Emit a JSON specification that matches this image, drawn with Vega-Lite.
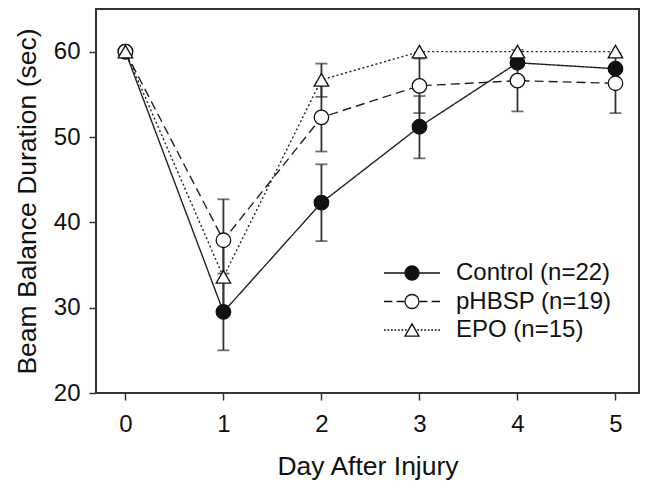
{
  "$schema": "https://vega.github.io/schema/vega-lite/v6.json",
  "width": 543,
  "height": 384,
  "autosize": {"type": "none"},
  "padding": {"left": 96, "top": 9, "right": 6, "bottom": 92},
  "background": "white",
  "config": {
    "font": "Liberation Sans",
    "view": {"stroke": "#333", "strokeWidth": 2},
    "axis": {
      "grid": false,
      "domain": false,
      "tickColor": "#333",
      "tickWidth": 1.5,
      "tickSize": 7,
      "labelFont": "Liberation Sans",
      "titleFont": "Liberation Sans",
      "labelFontSize": 24,
      "titleFontSize": 26.5,
      "labelColor": "#111",
      "titleColor": "#111",
      "titleFontWeight": "normal"
    }
  },
  "data": {
    "values": [
      {"group": "Control (n=22)", "day": 0, "mean": 60},
      {"group": "Control (n=22)", "day": 1, "mean": 29.5, "lo": 25, "hi": 34},
      {"group": "Control (n=22)", "day": 2, "mean": 42.3, "lo": 37.8, "hi": 46.8},
      {"group": "Control (n=22)", "day": 3, "mean": 51.2, "lo": 47.5, "hi": 54.8},
      {"group": "Control (n=22)", "day": 4, "mean": 58.7},
      {"group": "Control (n=22)", "day": 5, "mean": 58.0},
      {"group": "pHBSP (n=19)", "day": 0, "mean": 60},
      {"group": "pHBSP (n=19)", "day": 1, "mean": 37.9, "lo": 33.1, "hi": 42.7},
      {"group": "pHBSP (n=19)", "day": 2, "mean": 52.3, "lo": 48.3, "hi": 56.3},
      {"group": "pHBSP (n=19)", "day": 3, "mean": 56.0, "lo": 52.8, "hi": 59.2},
      {"group": "pHBSP (n=19)", "day": 4, "mean": 56.6, "lo": 53.0, "hi": 60.2},
      {"group": "pHBSP (n=19)", "day": 5, "mean": 56.3, "lo": 52.8, "hi": 59.8},
      {"group": "EPO (n=15)", "day": 0, "mean": 60},
      {"group": "EPO (n=15)", "day": 1, "mean": 33.6, "lo": 29.3, "hi": 37.9},
      {"group": "EPO (n=15)", "day": 2, "mean": 56.7, "lo": 54.7, "hi": 58.6},
      {"group": "EPO (n=15)", "day": 3, "mean": 60},
      {"group": "EPO (n=15)", "day": 4, "mean": 60},
      {"group": "EPO (n=15)", "day": 5, "mean": 60}
    ]
  },
  "layer": [
    {
      "transform": [{"filter": "isValid(datum.lo)"}],
      "mark": {"type": "errorbar", "color": "#333", "thickness": 1.8, "ticks": {"size": 12, "thickness": 1.8, "color": "#333"}},
      "encoding": {
        "x": {"field": "day", "type": "quantitative", "title": "Day After Injury",
              "scale": {"domain": [-0.3, 5.24], "nice": false, "zero": false},
              "axis": {"values": [0, 1, 2, 3, 4, 5], "format": "d", "labelPadding": 12, "titlePadding": 17}},
        "y": {"field": "lo", "type": "quantitative", "title": "Beam Balance Duration (sec)",
              "scale": {"domain": [20, 65], "nice": false, "zero": false},
              "axis": {"values": [20, 30, 40, 50, 60], "format": "d", "labelPadding": 9, "titlePadding": 12}},
        "y2": {"field": "hi"}
      }
    },
    {
      "mark": {"type": "line", "color": "#222", "strokeWidth": 1.4},
      "encoding": {
        "x": {"field": "day", "type": "quantitative", "title": "Day After Injury"},
        "y": {"field": "mean", "type": "quantitative", "title": "Beam Balance Duration (sec)"},
        "strokeDash": {"field": "group", "type": "nominal",
                       "scale": {"domain": ["Control (n=22)", "pHBSP (n=19)", "EPO (n=15)"], "range": [[1, 0], [9, 5], [2, 2.5]]},
                       "legend": null}
      }
    },
    {
      "mark": {"type": "point", "filled": true, "size": 210, "stroke": "#111", "strokeWidth": 1.3, "opacity": 1},
      "encoding": {
        "x": {"field": "day", "type": "quantitative", "title": "Day After Injury"},
        "y": {"field": "mean", "type": "quantitative", "title": "Beam Balance Duration (sec)"},
        "shape": {"field": "group", "type": "nominal",
                  "scale": {"domain": ["Control (n=22)", "pHBSP (n=19)", "EPO (n=15)"], "range": ["circle", "circle", "triangle-up"]},
                  "legend": null},
        "fill": {"field": "group", "type": "nominal",
                 "scale": {"domain": ["Control (n=22)", "pHBSP (n=19)", "EPO (n=15)"], "range": ["#111", "white", "white"]},
                 "legend": null}
      }
    },
    {
      "transform": [{"filter": "datum.day < -5"}],
      "mark": {"type": "point", "filled": false, "size": 196, "stroke": "#111", "strokeWidth": 1.3},
      "encoding": {
        "x": {"field": "day", "type": "quantitative", "title": "Day After Injury"},
        "y": {"field": "mean", "type": "quantitative", "title": "Beam Balance Duration (sec)"},
        "shape": {"field": "group", "type": "nominal",
                  "scale": {"domain": ["Control (n=22)", "pHBSP (n=19)", "EPO (n=15)"],
                            "range": [
                              "M-4,0L-1,0M1,0L4,0M-1,0A1,1 0 1,1 1,0A1,1 0 1,1 -1,0ZM-0.86,0A0.86,0.86 0 1,1 0.86,0A0.86,0.86 0 1,1 -0.86,0ZM-0.72,0A0.72,0.72 0 1,1 0.72,0A0.72,0.72 0 1,1 -0.72,0ZM-0.58,0A0.58,0.58 0 1,1 0.58,0A0.58,0.58 0 1,1 -0.58,0ZM-0.44,0A0.44,0.44 0 1,1 0.44,0A0.44,0.44 0 1,1 -0.44,0ZM-0.3,0A0.3,0.3 0 1,1 0.3,0A0.3,0.3 0 1,1 -0.3,0ZM-0.16,0A0.16,0.16 0 1,1 0.16,0A0.16,0.16 0 1,1 -0.16,0ZM-0.05,0L0.05,0",
                              "M-4,0L-2.8,0M-2.2,0L-1.1,0M1.1,0L2.2,0M2.8,0L4,0M-1,0A1,1 0 1,1 1,0A1,1 0 1,1 -1,0Z",
                              "M-4,0L-3.75,0M-3.5,0L-3.25,0M-3,0L-2.75,0M-2.5,0L-2.25,0M-2,0L-1.75,0M-1.5,0L-1.25,0M-1,0L-0.75,0M0.75,0L1,0M1.25,0L1.5,0M1.75,0L2,0M2.25,0L2.5,0M2.75,0L3,0M3.25,0L3.5,0M3.75,0L4,0M0,-0.87L-1,0.87L1,0.87Z"
                            ]},
                  "legend": {
                    "orient": "none",
                    "legendX": 304,
                    "legendY": 252,
                    "title": null,
                    "padding": 0,
                    "labelFont": "Liberation Sans",
                    "labelFontSize": 24,
                    "labelColor": "#111",
                    "labelOffset": 32,
                    "rowPadding": 4.5,
                    "symbolSize": 196,
                    "symbolFillColor": "white",
                    "symbolStrokeColor": "#111",
                    "symbolStrokeWidth": 1.3,
                    "symbolOpacity": 1
                  }}
      }
    }
  ],
  "resolve": {"scale": {"shape": "independent"}}
}
